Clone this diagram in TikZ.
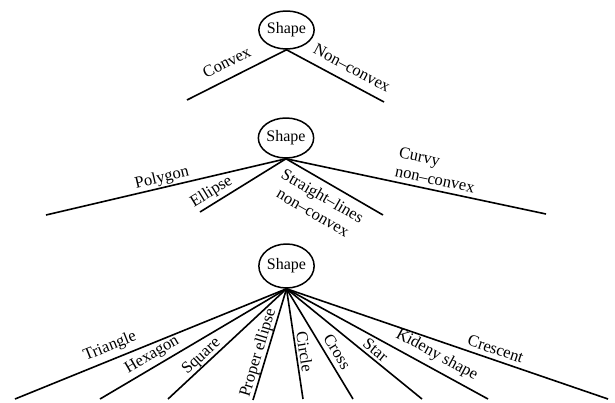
\documentclass[tikz,border=0pt]{standalone}
\usepackage{fontspec}
\setmainfont{Liberation Serif}
\usetikzlibrary{shapes.geometric}
\begin{document}
\begin{tikzpicture}[x=1pt,y=-1pt,
  root/.style={ellipse, draw, line width=1.5pt, minimum width=51pt, minimum height=38pt, inner sep=0pt, font=\fontsize{16}{18}\selectfont},
  branch/.style={line width=1.6pt},
  lab/.style={inner sep=0pt, font=\fontsize{16.5}{19}\selectfont}]
\useasboundingbox (0,0) rectangle (615,402);
% top tree
\node[root] (s1) at (286.5,30) {Shape};
\coordinate (t1) at (187,100);
\coordinate (t2) at (384,102);
\draw[branch] (t1) -- (s1.south) -- (t2);
\node[lab, rotate=26.8] (lconvex) at (226.7,62.3) {Convex};
\node[lab, rotate=-27.9] (lnonconvex) at (352,68) {Non–convex};
% middle tree
\node[root, minimum width=52pt, minimum height=40pt] (s2) at (286,138) {Shape};
\coordinate (m1) at (46,215);
\coordinate (m2) at (200,212);
\coordinate (m3) at (383,215);
\coordinate (m4) at (546,214);
\foreach \e in {m1,m2,m3,m4} \draw[branch] (s2.south) -- (\e);
\node[lab, rotate=13.1] (lpoly) at (162,178) {Polygon};
\node[lab, rotate=31.6] (lell) at (211.5,192) {Ellipse};
\node[lab, rotate=-30, align=center] (lstraight) at (318,204) {Straight–lines\\non–convex};
\node[lab, rotate=-11.9, align=left] (lcurvy) at (437,170) {Curvy\\non–convex};
% bottom tree
\node[root, minimum height=44pt] (s3) at (286.5,266) {Shape};
\coordinate (b1) at (15,399);
\coordinate (b2) at (100,399);
\coordinate (b3) at (168,399);
\coordinate (b4) at (253,400);
\coordinate (b5) at (303,399);
\coordinate (b6) at (353,399);
\coordinate (b7) at (422,399);
\coordinate (b8) at (488,399);
\coordinate (b9) at (608,399);
\foreach \e in {b1,b2,b3,b4,b5,b6,b7,b8,b9} \draw[branch] (s3.south) -- (\e);
\node[lab, rotate=21.9] (ltri) at (110,346.7) {Triangle};
\node[lab, rotate=30.4] (lhex) at (152.3,355) {Hexagon};
\node[lab, rotate=42.7] (lsq) at (201.7,356.7) {Square};
\node[lab, rotate=73.3] (lpe) at (258.5,353) {Proper ellipse};
\node[lab, rotate=-81.1] (lcirc) at (304.7,351.7) {Circle};
\node[lab, rotate=-58.4] (lcross) at (337.3,351.7) {Cross};
\node[lab, rotate=-38.7] (lstar) at (375.7,350) {Star};
\node[lab, rotate=-28.4] (lkid) at (436.7,355) {Kideny shape};
\node[lab, rotate=-18.7] (lcres) at (495.7,349) {Crescent};
\end{tikzpicture}
\end{document}
